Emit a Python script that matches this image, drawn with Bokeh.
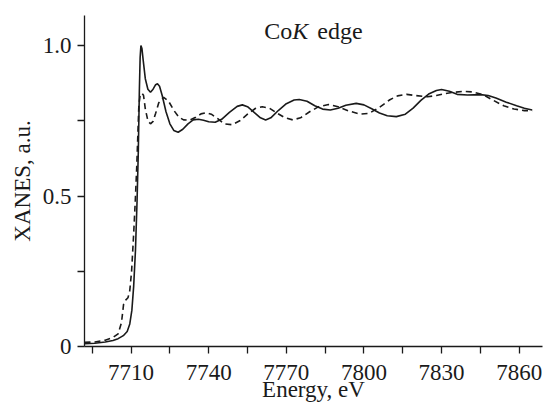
from bokeh.plotting import figure
from bokeh.models import FixedTicker, Range1d, Label
from bokeh.embed import file_html
from bokeh.resources import INLINE

# Solid curve (energy, eV ; XANES, a.u.)
energy_solid = [7692.0, 7696, 7700, 7703, 7705, 7707, 7708.5, 7709.5, 7710.3, 7711,
                7711.7, 7712.3, 7712.8, 7713.2, 7713.5, 7713.8, 7714.2, 7714.7, 7715.5, 7716.5,
                7717.5, 7718.5, 7719.5, 7720.2, 7721, 7722, 7723.5, 7725, 7726.5, 7728.2,
                7730, 7732, 7734, 7736, 7738, 7740, 7742.5, 7745, 7748, 7751,
                7753, 7755, 7758, 7760, 7762, 7764, 7767, 7770, 7773, 7775,
                7778, 7781, 7784, 7787, 7790, 7793, 7797, 7800, 7803, 7806,
                7809, 7812.5, 7816, 7819, 7822, 7825, 7828, 7830, 7833, 7836,
                7840, 7845, 7848, 7851, 7855, 7859, 7862, 7865]
xanes_solid = [0.009, 0.011, 0.015, 0.020, 0.026, 0.036, 0.05, 0.075, 0.12, 0.20,
               0.32, 0.48, 0.65, 0.85, 0.96, 1.0, 0.99, 0.95, 0.89, 0.855,
               0.845, 0.855, 0.870, 0.873, 0.865, 0.835, 0.78, 0.74, 0.718, 0.712,
               0.722, 0.740, 0.753, 0.755, 0.752, 0.747, 0.745, 0.755, 0.778, 0.798,
               0.803, 0.797, 0.775, 0.760, 0.753, 0.760, 0.785, 0.807, 0.819, 0.821,
               0.815, 0.800, 0.789, 0.786, 0.792, 0.802, 0.808, 0.803, 0.790, 0.776,
               0.767, 0.764, 0.772, 0.792, 0.818, 0.839, 0.851, 0.854, 0.848, 0.838,
               0.836, 0.837, 0.834, 0.826, 0.812, 0.800, 0.792, 0.786]

# Dashed curve
energy_dashed = [7692, 7696, 7700, 7703, 7705, 7706.3, 7707.1, 7708, 7708.8, 7709.5,
                 7710.2, 7711, 7711.6, 7712.2, 7712.6, 7713, 7713.5, 7714.2, 7714.8, 7715.5,
                 7716.5, 7717.5, 7718.5, 7719.5, 7720.7, 7722.6, 7724.5, 7726.5, 7728.5, 7730.3,
                 7732.5, 7735, 7737, 7739, 7741, 7743.5, 7746, 7749, 7752, 7755,
                 7758, 7760.7, 7763.5, 7766.5, 7769.5, 7772.5, 7775.5, 7779, 7782.5, 7786.3,
                 7790, 7794, 7798.6, 7802, 7806, 7810, 7813, 7816.5, 7820, 7824.5,
                 7828, 7831, 7834, 7838.6, 7842, 7846, 7850, 7854, 7858, 7862, 7865]
xanes_dashed = [0.014, 0.015, 0.021, 0.030, 0.042, 0.08, 0.14, 0.155, 0.162, 0.186,
                0.25, 0.374, 0.48, 0.60, 0.70, 0.80, 0.835, 0.842, 0.835, 0.79,
                0.75, 0.740, 0.748, 0.775, 0.810, 0.828, 0.815, 0.785, 0.762, 0.753,
                0.752, 0.762, 0.773, 0.777, 0.772, 0.757, 0.740, 0.737, 0.750, 0.772,
                0.791, 0.797, 0.792, 0.775, 0.760, 0.753, 0.760, 0.780, 0.797, 0.804,
                0.797, 0.783, 0.772, 0.775, 0.795, 0.820, 0.833, 0.838, 0.834, 0.830,
                0.834, 0.840, 0.844, 0.848, 0.846, 0.837, 0.818, 0.800, 0.789, 0.784, 0.784]

x_major_ticks = [7710, 7740, 7770, 7800, 7830, 7860]
x_minor_ticks = [7695, 7725, 7755, 7785, 7815, 7845]
y_major_ticks = [0, 0.5, 1.0]
y_minor_ticks = [0.25, 0.75]

FONT = "Liberation Serif"
INK = "#1a1a1a"

p = figure(width=545, height=404, output_backend="svg", toolbar_location=None,
           x_range=Range1d(7692, 7869), y_range=Range1d(0, 1.1),
           min_border_left=84, min_border_right=3, min_border_top=15, min_border_bottom=58)
p.outline_line_color = None
p.xgrid.visible = False
p.ygrid.visible = False
p.background_fill_color = "white"
p.border_fill_color = "white"

p.line(energy_solid, xanes_solid, line_color=INK, line_width=1.6)
p.line(energy_dashed, xanes_dashed, line_color=INK, line_width=1.6, line_dash="6 4")

for ax in (p.xaxis[0], p.yaxis[0]):
    ax.axis_line_color = INK
    ax.axis_line_width = 1.3
    ax.major_tick_line_color = INK
    ax.minor_tick_line_color = INK
    ax.major_tick_line_width = 1.3
    ax.minor_tick_line_width = 1.3
    ax.major_tick_in = 0
    ax.minor_tick_in = 0
    ax.major_tick_out = 7
    ax.minor_tick_out = 7
    ax.major_label_text_font = FONT
    ax.major_label_text_font_size = "23px"
    ax.major_label_text_color = INK
    ax.axis_label_text_font = FONT
    ax.axis_label_text_font_size = "23px"
    ax.axis_label_text_font_style = "normal"
    ax.axis_label_text_color = INK

p.xaxis[0].ticker = FixedTicker(ticks=x_major_ticks, minor_ticks=x_minor_ticks)
p.yaxis[0].ticker = FixedTicker(ticks=y_major_ticks, minor_ticks=y_minor_ticks)
p.yaxis[0].major_label_overrides = {0: "0", 0.5: "0.5", 1.0: "1.0"}
p.xaxis[0].major_label_standoff = 11
p.yaxis[0].major_label_standoff = 6
p.xaxis[0].axis_label = "Energy, eV"
p.yaxis[0].axis_label = "XANES, a.u."
p.xaxis[0].axis_label_standoff = -6
p.yaxis[0].axis_label_standoff = 5

title_x = 7761.5
title_y = 1.05
for txt, off, style in (("Co", 0, "normal"), ("K", 28, "italic"), ("edge", 53, "normal")):
    p.add_layout(Label(x=title_x, y=title_y, x_offset=off, text=txt,
                       text_font=FONT, text_font_size="24px", text_font_style=style,
                       text_color=INK, text_baseline="alphabetic", text_align="left"))

open("out.html", "w").write(file_html(p, INLINE))
